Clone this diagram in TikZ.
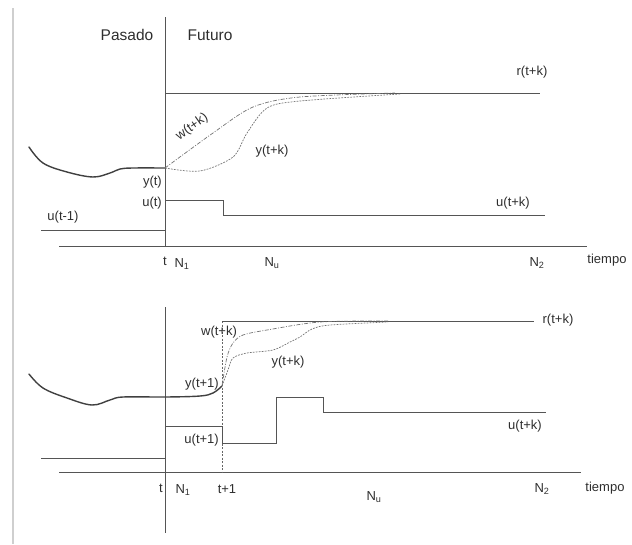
\documentclass[tikz,border=0pt]{standalone}
\usepackage{fontspec}
\setmainfont{Liberation Sans}
\usetikzlibrary{positioning}
\definecolor{plotgray}{HTML}{555555}
\definecolor{textgray}{HTML}{2E2E2E}
\definecolor{framegray}{HTML}{CFCFCF}

\begin{document}
\begin{tikzpicture}[x=1pt, y=-1pt,
        axisline/.style={draw=plotgray, line width=0.9pt},
        refline/.style={draw=plotgray, line width=0.9pt},
        outline/.style={draw=black!75, line width=1.4pt, line cap=round},
        ctrlline/.style={draw=plotgray, line width=0.9pt},
        wline/.style={draw=black!55, line width=0.7pt, dash pattern=on 4pt off 1.5pt on 1pt off 1.5pt},
        yline/.style={draw=black!55, line width=0.7pt, dash pattern=on 1.8pt off 1.2pt},
        markline/.style={draw=black!60, line width=0.6pt, dash pattern=on 2pt off 1.5pt},
        lbl/.style={font=\fontsize{13}{15}\selectfont, text=textgray, inner sep=1pt},
        headlbl/.style={font=\fontsize{15.5}{18}\selectfont, text=textgray, inner sep=1pt},
    ]
    \useasboundingbox (0,0) rectangle (632,544);
    % Time positions
    \def\tnow{165}
    \def\tnext{222}

    % left frame
    \coordinate (fA) at (13,8);
    \coordinate (fB) at (13,544);
    \draw[framegray, line width=2pt] (fA) -- (fB);

    % === Panel 1: instant t ===
    \coordinate (vA) at (\tnow,17);
    \coordinate (vB) at (\tnow,246);
    \coordinate (axA) at (59,246);
    \coordinate (axB) at (587,246);
    \draw[axisline] (vA) -- (vB);
    \draw[axisline] (axA) -- (axB);
    \node[headlbl] (pasado) at (127,35) {Pasado};
    \node[headlbl] (futuro) at (210,35) {Futuro};

    % reference
    \coordinate (rA) at (\tnow,93);
    \coordinate (rB) at (540,93);
    \draw[refline] (rA) -- (rB);
    \node[lbl] (rlbl) at (532,72) {r(t+k)};

    % past output
    \draw[outline] plot[smooth, tension=0.6] coordinates {(29,147) (43,163) (67,172) (93,177) (110,173) (120,169) (133,168) (\tnow,168)};
    % predicted trajectories
    \draw[wline] plot[smooth, tension=0.5] coordinates {(\tnow,168) (213,133) (253,107) (300,97) (395,93)};
    \draw[yline] plot[smooth, tension=0.5] coordinates {(\tnow,168) (200,171) (233,157) (247,133) (267,108) (300,101) (400,94)};
    \node[lbl, rotate=35] (wlbl) at (192,127) {w(t+k)};
    \node[lbl] (ylbl) at (272,151) {y(t+k)};
    \node[lbl, anchor=east] (ytlbl) at (163,182) {y(t)};

    % control signal
    \draw[ctrlline] (41,230) -- (\tnow,230) -- (\tnow,200) -- (223,200) -- (223,215) -- (545,215);
    \node[lbl, anchor=east] (utlbl) at (163,203) {u(t)};
    \node[lbl] (uprev) at (63,217) {u(t-1)};
    \node[lbl] (ufut) at (513,203) {u(t+k)};

    % axis labels
    \node[lbl] (tlbl) at (165,261) {t};
    \node[lbl] (none) at (182,264) {N\textsubscript{1}};
    \node[lbl] (nu) at (272,263) {N\textsubscript{u}};
    \node[lbl] (ntwo) at (537,263) {N\textsubscript{2}};
    \node[lbl] (tiempo) at (607,260) {tiempo};

    % === Panel 2: instant t+1 ===
    \coordinate (wA) at (\tnow,307);
    \coordinate (wB) at (\tnow,533);
    \coordinate (bxA) at (59,472);
    \coordinate (bxB) at (581,472);
    \draw[axisline] (wA) -- (wB);
    \draw[axisline] (bxA) -- (bxB);
    \coordinate (mA) at (\tnext,321);
    \coordinate (mB) at (\tnext,472);
    \draw[markline] (mA) -- (mB);

    % reference
    \coordinate (sB) at (534,321);
    \draw[refline] (mA) -- (sB);
    \node[lbl] (rlbl2) at (558,320) {r(t+k)};

    % past output
    \draw[outline] plot[smooth, tension=0.6] coordinates {(29,374) (43,388) (67,398) (92,405) (110,400) (123,397) (166,397) (200,396) (213,393) (\tnext,386)};
    % predicted trajectories
    \draw[wline] plot[smooth, tension=0.5] coordinates {(\tnext,386) (227,357) (233,343) (243,335) (267,330) (320,322) (388,321)};
    \draw[yline] plot[smooth, tension=0.5] coordinates {(\tnext,386) (228,370) (233,358) (247,353) (273,350) (290,342) (300,337) (312,329) (330,325) (388,322)};
    \node[lbl] (wlbl2) at (219,332) {w(t+k)};
    \node[lbl] (ylbl2) at (288,362) {y(t+k)};
    \node[lbl, anchor=east] (ytlbl2) at (220,384) {y(t+1)};

    % control signal
    \draw[ctrlline] (41,458) -- (\tnow,458) -- (\tnow,426) -- (\tnext,426) -- (\tnext,443) -- (276,443) -- (276,397) -- (323,397) -- (323,412) -- (546,412);
    \node[lbl, anchor=east] (utlbl2) at (220,440) {u(t+1)};
    \node[lbl] (ufut2) at (525,426) {u(t+k)};

    % axis labels
    \node[lbl] (tlbl2) at (161,488) {t};
    \node[lbl] (none2) at (183,490) {N\textsubscript{1}};
    \node[lbl] (tplus) at (227,489) {t+1};
    \node[lbl] (nu2) at (374,497) {N\textsubscript{u}};
    \node[lbl] (ntwo2) at (542,489) {N\textsubscript{2}};
    \node[lbl] (tiempo2) at (605,488) {tiempo};
\end{tikzpicture}
\end{document}
